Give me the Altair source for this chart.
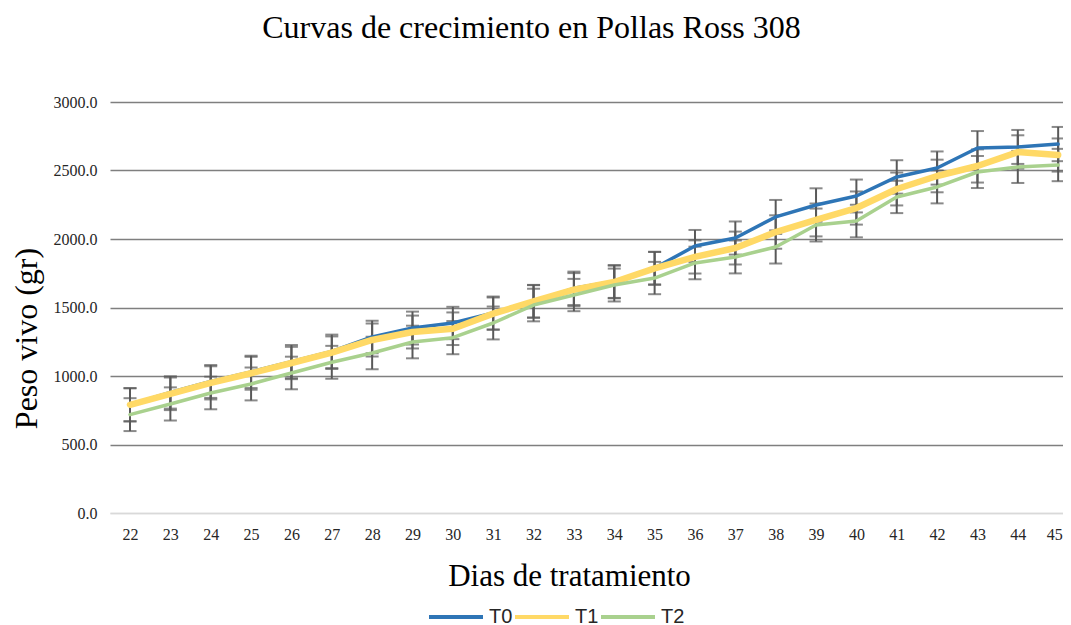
import altair as alt
import pandas as pd

days = list(range(22, 46))
series = ["T0", "T1", "T2"]

t0 = [790, 880, 960, 1030, 1105, 1180, 1285, 1350, 1387, 1460, 1545, 1640,
      1690, 1788, 1949, 2007, 2161, 2248, 2314, 2453, 2518, 2664, 2672, 2693]
t1 = [790, 870, 950, 1020, 1095, 1170, 1263, 1321, 1345, 1455, 1545, 1630,
      1686, 1785, 1869, 1934, 2051, 2139, 2226, 2365, 2460, 2533, 2635, 2613]
t2 = [718, 796, 876, 942, 1022, 1100, 1168, 1248, 1280, 1387, 1518, 1591,
      1664, 1715, 1825, 1869, 1942, 2102, 2131, 2307, 2380, 2489, 2526, 2540]

e0 = [122, 118, 120, 118, 121, 122, 119, 120, 118, 120, 118, 122,
      120, 119, 117, 121, 124, 122, 120, 122, 121, 124, 124, 125]
e1 = [120, 119, 121, 120, 118, 119, 121, 120, 119, 118, 120, 121,
      119, 120, 121, 120, 122, 120, 121, 120, 119, 121, 122, 121]
e2 = [120, 121, 119, 120, 119, 120, 118, 119, 121, 120, 119, 118,
      120, 118, 119, 120, 121, 120, 119, 118, 120, 117, 117, 118]

colors = ["#2E75B6", "#FFD966", "#A9D18E"]
widths = [3.5, 6.5, 3.5]

rows = []
for s, vals, errs in zip(series, [t0, t1, t2], [e0, e1, e2]):
    for d, v, e in zip(days, vals, errs):
        rows.append({"dia": d, "serie": s, "peso": v, "err": e})
df = pd.DataFrame(rows)

SERIF = "Liberation Serif"

x_enc = alt.X(
    "dia:Q",
    scale=alt.Scale(domain=[21.504, 45.12], nice=False, zero=False),
    axis=alt.Axis(
        values=days, format="d", title="Dias de tratamiento",
        grid=False, ticks=False, domain=True, domainColor="#d9d9d9", domainWidth=1.5,
        labelFont=SERIF, labelFontSize=16, labelColor="#262626", labelPadding=13,
        labelOffset={"condition": {"test": "datum.value === 45", "value": -4}, "value": 0},
        titleFont=SERIF, titleFontSize=31, titleFontWeight="normal", titleColor="#000000",
        titleX=459, titleY=72, titleBaseline="alphabetic", titleAlign="center",
    ),
)

y_scale = alt.Scale(domain=[0, 3000], nice=False)
y_axis = alt.Axis(
    values=[0, 500, 1000, 1500, 2000, 2500, 3000], format=".1f",
    title="Peso vivo (gr)", grid=True,
    gridColor={"condition": {"test": "datum.value === 0", "value": "#d9d9d9"}, "value": "#7f7f7f"},
    gridWidth=1.5, domain=False, ticks=False,
    labelFont=SERIF, labelFontSize=16, labelColor="#262626", labelPadding=13,
    titleFont=SERIF, titleFontSize=32, titleFontWeight="normal", titleColor="#000000",
    titleX=-84, titleY=236, titleAngle=-90, titleAlign="center", titleBaseline="middle",
)

base = alt.Chart(df).transform_calculate(
    lo="datum.peso - datum.err", hi="datum.peso + datum.err"
)

rules = base.mark_rule(color="#595959", strokeWidth=2).encode(
    x=x_enc,
    y=alt.Y("lo:Q", scale=y_scale, axis=y_axis),
    y2="hi:Q",
)
cap_lo = base.mark_tick(color="#595959", orient="horizontal", size=13, thickness=2).encode(
    x="dia:Q", y="lo:Q"
)
cap_hi = base.mark_tick(color="#595959", orient="horizontal", size=13, thickness=2).encode(
    x="dia:Q", y="hi:Q"
)

legend = alt.Legend(
    orient="none", direction="horizontal", title=None,
    legendX=317, legendY=486,
    symbolType="stroke", symbolSize=2916, symbolStrokeWidth=4,
    labelFont="Liberation Sans", labelFontSize=20, labelColor="#262626",
    labelOffset=4, columnPadding=-14,
)

line_layers = []
for s, w in zip(series, widths):
    line_layers.append(
        base.transform_filter(alt.datum.serie == s)
        .mark_line(strokeCap="round", strokeJoin="round", strokeWidth=w)
        .encode(
            x="dia:Q",
            y=alt.Y("peso:Q"),
            color=alt.Color("serie:N", scale=alt.Scale(domain=series, range=colors), legend=legend),
            order=alt.Order("dia:Q"),
        )
    )

chart = alt.layer(rules, cap_lo, cap_hi, *line_layers).properties(
    width=953,
    height=411,
    title=alt.TitleParams(
        "Curvas de crecimiento en Pollas Ross 308",
        font=SERIF, fontSize=32, fontWeight="normal", color="#000000",
        anchor="middle", dx=-55, offset=24, baseline="alphabetic",
    ),
    autosize=alt.AutoSizeParams(type="none"),
    padding={"left": 102, "top": 94, "right": 0, "bottom": 122},
    background="white",
).configure_view(stroke=None)

chart.save("out.html", embed_options={"renderer": "svg", "actions": False})
